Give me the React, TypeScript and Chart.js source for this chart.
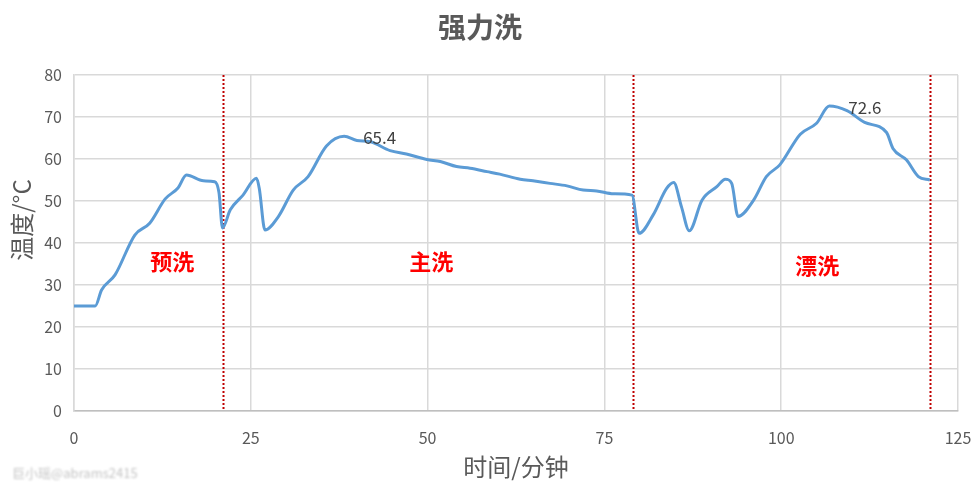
import { useEffect, useRef } from "react"
import { Chart, registerables } from "chart.js"

Chart.register(...registerables)

// tempo (minuti) e temperatura
const times = [
  0, 3, 3.9, 5.8, 8.6, 10.7, 12.9, 14.7, 15.9, 18.3, 19.9, 20.5, 21.0, 22.1, 23.9, 25.8, 26.2, 27.0, 28.9, 31,
  33.1, 35.7, 38.2, 40, 41.9, 44.7, 47, 49.9, 51.8, 54.1, 56, 58.4, 60.2, 63.1, 64.9, 67.3, 69.7, 72, 73.9, 76.3,
  78.9, 79.9, 81.9, 83.8, 84.8, 85.9, 87.0, 88.8, 90.9, 92.1, 93.0, 93.9, 96.1, 97.9, 99.8, 102.7, 105, 106.8,
  109.3, 111.8, 114.9, 115.8, 117.7, 119.4, 121,
]
const temps = [
  25, 25, 28.8, 32.4, 41.9, 44.7, 50.5, 53.1, 56.2, 54.8, 54.6, 52, 43.6, 47.9, 51.4, 55.4, 53, 43.1, 46.3, 52.6,
  55.8, 63.1, 65.4, 64.4, 64.1, 62.0, 61.2, 59.9, 59.4, 58.2, 57.8, 57.0, 56.4, 55.2, 54.8, 54.2, 53.6, 52.6, 52.4,
  51.7, 51.4, 42.3, 46.7, 53.0, 54.4, 48.6, 42.9, 50.2, 53.4, 55.2, 54.2, 46.3, 50.2, 55.8, 58.6, 65.9, 68.5, 72.6,
  71.5, 68.7, 66.3, 62.5, 59.8, 55.8, 55.0,
]

// punti etichettati (indici in times/temps)
const labeledIdx = [22, 57]

// linee di separazione delle fasi
const phaseLines = [21, 79, 121]
const phaseNames = ["预洗", "主洗", "漂洗"]
const phaseX = [13.9, 50.5, 105.1]
const phaseY = [35.5, 35.5, 34.5]

const xTicks = [0, 25, 50, 75, 100, 125]

const FONT = '"Noto Sans CJK SC", "Microsoft YaHei", sans-serif'
const GRAY = "#595959"

const overlayPlugin = {
  id: "overlay",
  beforeDatasetsDraw(chart: any) {
    const { ctx, chartArea, scales } = chart
    ctx.save()
    ctx.strokeStyle = "#C00000"
    ctx.lineWidth = 2
    ctx.setLineDash([2, 2])
    phaseLines.forEach((t) => {
      const x = Math.round(scales.x.getPixelForValue(t)) + 0.5
      ctx.beginPath()
      ctx.moveTo(x, chartArea.top)
      ctx.lineTo(x, chartArea.bottom)
      ctx.stroke()
    })
    ctx.restore()
  },
  afterDraw(chart: any) {
    const { ctx, scales, chartArea } = chart
    ctx.save()
    // titolo
    ctx.fillStyle = GRAY
    ctx.font = `bold 28px ${FONT}`
    ctx.textAlign = "center"
    ctx.textBaseline = "middle"
    ctx.fillText("强力洗", 480, 27)

    // titoli degli assi
    ctx.font = `24px ${FONT}`
    ctx.fillText("时间/分钟", (chartArea.left + chartArea.right) / 2, 467)
    ctx.save()
    ctx.translate(22, 220)
    ctx.rotate(-Math.PI / 2)
    ctx.fillText("温度/°C", 0, 0)
    ctx.restore()

    // nomi delle fasi
    ctx.fillStyle = "#FF0000"
    ctx.font = `bold 22px ${FONT}`
    phaseNames.forEach((name, i) => {
      ctx.fillText(name, scales.x.getPixelForValue(phaseX[i]), scales.y.getPixelForValue(phaseY[i]))
    })

    // etichette dei valori
    const meta = chart.getDatasetMeta(0)
    ctx.fillStyle = "#404040"
    ctx.font = `17px ${FONT}`
    ctx.textAlign = "left"
    labeledIdx.forEach((i) => {
      const p = meta.data[i]
      ctx.fillText(temps[i].toFixed(1), p.x + 19, p.y + 1)
    })

    // filigrana
    ctx.filter = "blur(0.8px)"
    ctx.fillStyle = "rgba(190,190,190,0.9)"
    ctx.font = `13px ${FONT}`
    ctx.fillText("巨小瑶@abrams2415", 12, 473)
    ctx.restore()
  },
}

export default function App() {
  const chartRef = useRef<HTMLCanvasElement>(null)
  const chartInstance = useRef<Chart | null>(null)

  useEffect(() => {
    if (!chartRef.current) return
    if (chartInstance.current) {
      chartInstance.current.destroy()
    }
    const ctx = chartRef.current.getContext("2d")
    if (!ctx) return

    chartInstance.current = new Chart(ctx, {
      type: "line",
      data: {
        datasets: [
          {
            data: times.map((t, i) => ({ x: t, y: temps[i] })),
            borderColor: "#5B9BD5",
            borderWidth: 3,
            pointRadius: 0,
            cubicInterpolationMode: "monotone",
            fill: false,
          },
        ],
      },
      options: {
        animation: false,
        responsive: true,
        maintainAspectRatio: false,
        layout: { padding: { left: 0, right: 18, top: 75, bottom: 0 } },
        plugins: {
          legend: { display: false },
          tooltip: { enabled: false },
        },
        scales: {
          x: {
            type: "linear",
            min: 0,
            max: 125,
            afterFit: (scale: any) => {
              scale.height = 83
              scale.paddingLeft = 0
              scale.paddingRight = 0
            },
            afterBuildTicks: (scale: any) => {
              scale.ticks = xTicks.map((v) => ({ value: v }))
            },
            grid: { color: "#D9D9D9", lineWidth: 1.5, drawTicks: false },
            border: { color: "#BFBFBF", width: 1.5 },
            ticks: {
              color: GRAY,
              font: { family: FONT, size: 16 },
              padding: 17,
            },
          },
          y: {
            min: 0,
            max: 80,
            afterFit: (scale: any) => {
              scale.width = 74
              scale.paddingTop = 0
              scale.paddingBottom = 0
            },
            grid: { color: "#D9D9D9", lineWidth: 1.5, drawTicks: false },
            border: { color: "#D9D9D9", width: 1.5 },
            ticks: {
              stepSize: 10,
              color: GRAY,
              font: { family: FONT, size: 16 },
              padding: 12,
            },
          },
        },
      },
      plugins: [overlayPlugin],
    })

    return () => {
      if (chartInstance.current) {
        chartInstance.current.destroy()
      }
    }
  }, [])

  return (
    <div style={{ position: "absolute", left: 0, top: 0, width: 976, height: 494, background: "#fff" }}>
      <canvas ref={chartRef} />
    </div>
  )
}
